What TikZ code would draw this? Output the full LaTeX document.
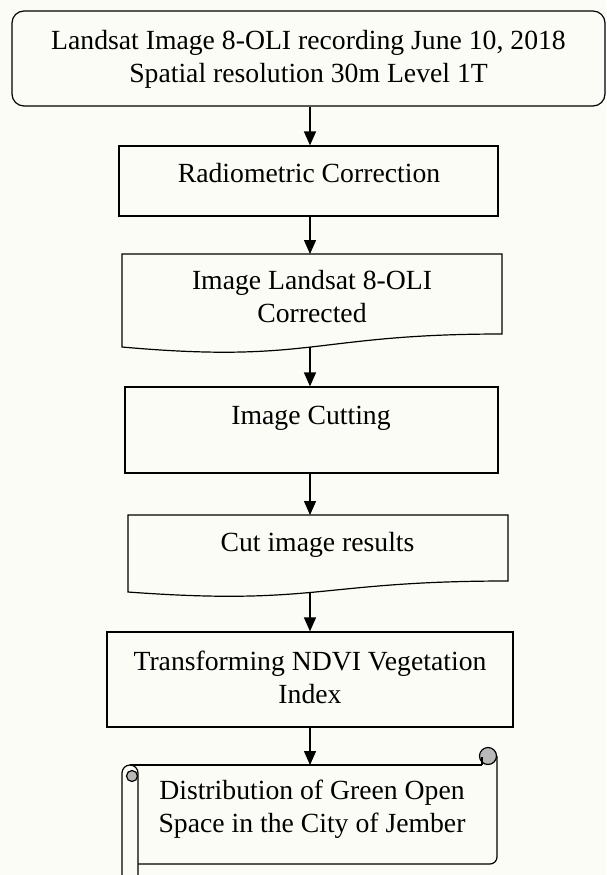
\documentclass[tikz,border=0pt]{standalone}
\usepackage{fontspec}
\setmainfont{Liberation Serif}
\usetikzlibrary{arrows.meta}
\definecolor{paper}{RGB}{252,252,246}
\definecolor{curl}{RGB}{185,185,185}
\begin{document}
\begin{tikzpicture}[x=1pt,y=-1pt,line width=1.2pt,
        box/.style={draw,rectangle,inner sep=0pt},
        flow/.style={-{Triangle[length=14pt,width=12pt]},line width=1.4pt},
        txt/.style={anchor=base,align=center,inner sep=0pt,font=\fontsize{27.7}{33}\selectfont}]
        \fill[paper] (0,0) rectangle (606,875);
        \useasboundingbox (0,0) rectangle (606,875);
        % boxes
        \node[box,rounded corners=12pt,minimum width=593pt,minimum height=95pt] (src) at (308.5,58.5) {};
        \node[box,minimum width=379pt,minimum height=70pt] (radio) at (308.5,181) {};
        \draw (122,254) -- (502,254) -- (502,334) .. controls (312,334) and (312,364) .. (122,347) -- cycle;
        \coordinate (corr) at (310,254);
        \coordinate (corr-out) at (310,347);
        \node[box,minimum width=373pt,minimum height=86pt] (cut) at (311.5,430) {};
        \draw (128,515) -- (508,515) -- (508,581) .. controls (318,581) and (318,606) .. (128,592) -- cycle;
        \coordinate (res) at (310,515);
        \coordinate (res-out) at (310,592);
        \node[box,minimum width=406pt,minimum height=95pt] (ndvi) at (310,679.5) {};
        % scroll
        \draw (122,875) -- (122,773) arc[start angle=180,end angle=0,radius=8pt] -- (138,875);
        \draw[fill=curl] (132,776) circle[radius=5.5pt];
        \draw (130,765) -- (482,765);
        \draw (138,864) -- (490,864) arc[start angle=-90,end angle=0,radius=7pt] -- (497,756);
        \draw[fill=curl] (488,756) circle[radius=8.5pt];
        \draw (482,765) -- (482,757);
        \coordinate (dist) at (310,765);
        % texts
        \node[txt] (src-t) at (308.5,82) {Landsat Image 8-OLI recording June 10, 2018\\Spatial resolution 30m Level 1T};
        \node[txt] (radio-t) at (309,182) {Radiometric Correction};
        \node[txt] (corr-t) at (312,322) {Image Landsat 8-OLI\\Corrected};
        \node[txt] (cut-t) at (311,424) {Image Cutting};
        \node[txt] (res-t) at (317.5,551) {Cut image results};
        \node[txt] (ndvi-t) at (310,703) {Transforming NDVI Vegetation\\Index};
        \node[txt] (dist-t) at (312,832) {Distribution of Green Open\\Space in the City of Jember};
        % arrows
        \draw[flow] (src.south -| corr) -- (radio.north -| corr);
        \draw[flow] (radio.south -| corr) -- (corr);
        \draw[flow] (corr-out) -- (cut.north -| corr-out);
        \draw[flow] (cut.south -| res) -- (res);
        \draw[flow] (res-out) -- (ndvi.north);
        \draw[flow] (ndvi.south) -- (dist);
\end{tikzpicture}
\end{document}
